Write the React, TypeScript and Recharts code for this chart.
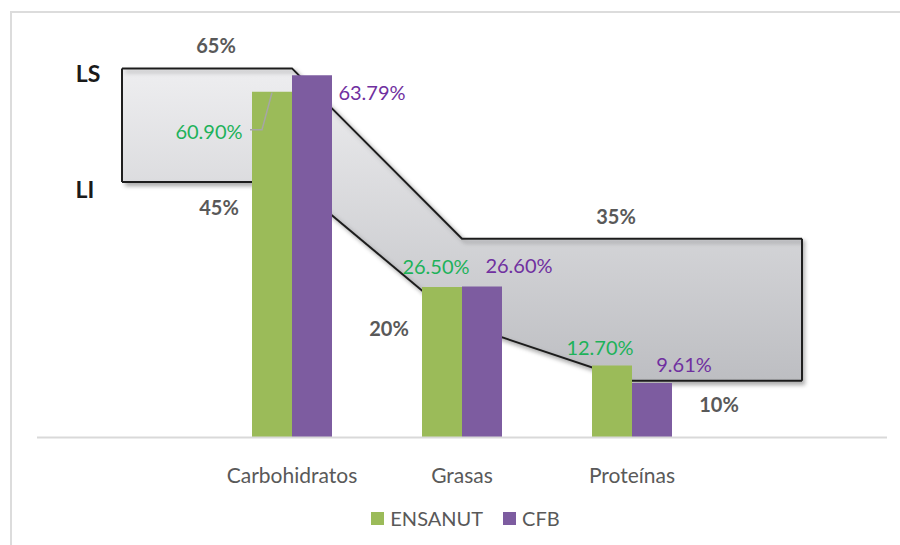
import {
  Area,
  Bar,
  ComposedChart,
  LabelList,
  Legend,
  ReferenceDot,
  ReferenceLine,
  XAxis,
  YAxis,
} from "recharts";

// categorías (los extremos solo sirven para dibujar la banda LS-LI)
const categories = ["inicio", "Carbohidratos", "Grasas", "Proteínas", "fin"];
const ensanut = [null, 60.9, 26.5, 12.7, null];
const cfb = [null, 63.79, 26.6, 9.61, null];
const limiteSuperior = [65, 65, 35, 35, 35];
const limiteInferior = [45, 45, 20, 10, 10];

const data = categories.map((name, i) => ({
  name,
  ensanut: ensanut[i],
  cfb: cfb[i],
  rango: [limiteInferior[i], limiteSuperior[i]],
}));

const FONT = "Lato, 'Open Sans', sans-serif";
const GREEN = "#9BBB59";
const PURPLE = "#7D5CA0";
const GREEN_TEXT = "#1DB25A";
const PURPLE_TEXT = "#7030A0";
const GRAY_TEXT = "#595959";

// desplazamientos de las etiquetas respecto al centro superior de cada barra
const ensanutLabelShift = [null, { dx: -63, dy: 39 }, { dx: -6, dy: -21 }, { dx: -12, dy: -18 }, null];
const cfbLabelShift = [null, { dx: 60, dy: 17 }, { dx: 37, dy: -21 }, { dx: 32, dy: -19 }, null];

// anotaciones de la banda: índice de categoría, límite y desplazamiento
const bandNotes = [
  { idx: 1, limit: "ls", dx: -76, dy: -23 },
  { idx: 1, limit: "li", dx: -73, dy: 25 },
  { idx: 3, limit: "ls", dx: -16, dy: -23 },
  { idx: 2, limit: "li", dx: -73, dy: 4 },
  { idx: 3, limit: "li", dx: 87, dy: 23 },
];

const fmt = (v: number) => `${v.toFixed(2)}%`;

function makeBarLabel(values: (number | null)[], shifts: any[], color: string, leader: boolean) {
  return (props: any) => {
    const { x, y, width, value } = props;
    if (value == null) return null;
    const idx = values.indexOf(Number(value));
    const s = shifts[idx];
    if (!s) return null;
    const cx = x + width / 2;
    return (
      <g>
        {leader && idx === 1 ? (
          <polyline
            points={`${cx - 22},${y + s.dy - 1} ${cx - 10},${y + s.dy - 1} ${cx},${y + 1}`}
            fill="none"
            stroke="#A6A6A6"
            strokeWidth={1.5}
          />
        ) : null}
        <text
          x={cx + s.dx}
          y={y + s.dy}
          textAnchor="middle"
          dominantBaseline="central"
          fill={color}
          fontFamily={FONT}
          fontSize={20}
        >
          {fmt(Number(value))}
        </text>
      </g>
    );
  };
}

function noteLabel(text: string, dx: number, dy: number, color: string, size: number) {
  return (props: any) => {
    const vb = props.viewBox;
    return (
      <text
        x={vb.x + vb.width / 2 + dx}
        y={vb.y + vb.height / 2 + dy}
        textAnchor="middle"
        dominantBaseline="central"
        fill={color}
        fontFamily={FONT}
        fontWeight={700}
        fontSize={size}
      >
        {text}
      </text>
    );
  };
}

const CategoryTick = (props: any) => {
  const { x, y, payload } = props;
  if (payload.value === "inicio" || payload.value === "fin") return null;
  return (
    <text
      x={x}
      y={y + 29}
      textAnchor="middle"
      dominantBaseline="central"
      fill={GRAY_TEXT}
      fontFamily={FONT}
      fontSize={21}
    >
      {payload.value}
    </text>
  );
};

const renderLegend = () => (
  <div
    style={{
      display: "flex",
      justifyContent: "center",
      alignItems: "center",
      paddingLeft: 31,
      fontFamily: FONT,
      fontSize: 20,
      color: GRAY_TEXT,
    }}
  >
    {[
      { name: "ENSANUT", color: GREEN },
      { name: "CFB", color: PURPLE },
    ].map((item, i) => (
      <span
        key={item.name}
        style={{ display: "flex", alignItems: "center", marginLeft: i ? 20 : 0 }}
      >
        <span
          style={{ width: 13, height: 13, background: item.color, marginRight: 6 }}
        />
        {item.name}
      </span>
    ))}
  </div>
);

export default function App() {
  const first = categories[0];
  const last = categories[categories.length - 1];
  return (
    <div
      style={{
        position: "absolute",
        left: 0,
        top: 0,
        width: 900,
        height: 545,
        background: "#fff",
        overflow: "hidden",
      }}
    >
      <div
        style={{
          position: "absolute",
          left: 10,
          top: 11,
          width: 900,
          height: 545,
          borderLeft: "2px solid #DCDCDC",
          borderTop: "2px solid #DCDCDC",
        }}
      />
      <ComposedChart
        width={900}
        height={545}
        data={data}
        margin={{ top: 40, right: 13, bottom: 43.5, left: 37 }}
        barGap={0}
        barSize={40}
        style={{ position: "absolute", left: 0, top: 0 }}
      >
        <defs>
          <linearGradient id="bandFill" x1="0" y1="0" x2="0" y2="1">
            <stop offset="0%" stopColor="#EEEEF0" />
            <stop offset="100%" stopColor="#BDBEC2" />
          </linearGradient>
          <filter id="bandShadow" x="-5%" y="-5%" width="110%" height="115%">
            <feDropShadow dx="3" dy="3" stdDeviation="2" floodColor="#000" floodOpacity="0.3" />
          </filter>
        </defs>
        <XAxis
          dataKey="name"
          axisLine={{ stroke: "#D9D9D9", strokeWidth: 2 }}
          tickLine={false}
          tick={<CategoryTick />}
          height={40}
          interval={0}
        />
        <YAxis hide domain={[0, 70]} />
        <Area
          dataKey="rango"
          type="linear"
          fill="url(#bandFill)"
          fillOpacity={1}
          stroke="#1F1F1F"
          strokeWidth={2}
          filter="url(#bandShadow)"
          isAnimationActive={false}
          activeDot={false}
          dot={false}
          legendType="none"
        />
        <ReferenceLine
          segment={[
            { x: first, y: limiteInferior[0] },
            { x: first, y: limiteSuperior[0] },
          ]}
          stroke="#1F1F1F"
          strokeWidth={2}
        />
        <ReferenceLine
          segment={[
            { x: last, y: limiteInferior[4] },
            { x: last, y: limiteSuperior[4] },
          ]}
          stroke="#1F1F1F"
          strokeWidth={2}
        />
        <Bar dataKey="ensanut" name="ENSANUT" fill={GREEN} isAnimationActive={false}>
          <LabelList
            dataKey="ensanut"
            content={makeBarLabel(ensanut, ensanutLabelShift, GREEN_TEXT, true)}
          />
        </Bar>
        <Bar dataKey="cfb" name="CFB" fill={PURPLE} isAnimationActive={false}>
          <LabelList dataKey="cfb" content={makeBarLabel(cfb, cfbLabelShift, PURPLE_TEXT, false)} />
        </Bar>
        <ReferenceDot
          x={first}
          y={limiteSuperior[0]}
          r={1}
          fill="none"
          stroke="none"
          label={noteLabel("LS", -34, 5, "#1A1A1A", 23)}
        />
        <ReferenceDot
          x={first}
          y={limiteInferior[0]}
          r={1}
          fill="none"
          stroke="none"
          label={noteLabel("LI", -37, 7, "#1A1A1A", 23)}
        />
        {bandNotes.map((n, i) => {
          const v = n.limit === "ls" ? limiteSuperior[n.idx] : limiteInferior[n.idx];
          return (
            <ReferenceDot
              key={i}
              x={categories[n.idx]}
              y={v}
              r={1}
              fill="none"
              stroke="none"
              label={noteLabel(`${v}%`, n.dx, n.dy, GRAY_TEXT, 20)}
            />
          );
        })}
        <Legend
          verticalAlign="bottom"
          height={24}
          content={renderLegend}
          wrapperStyle={{ top: 506, left: 0, width: 900 }}
        />
      </ComposedChart>
    </div>
  );
}
